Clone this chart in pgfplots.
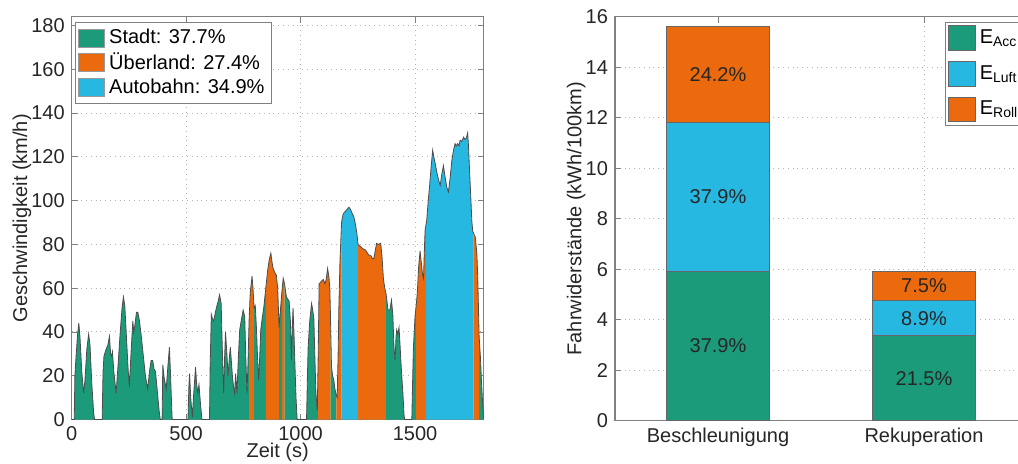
\documentclass[border=0pt]{standalone}
\usepackage{fontspec}
\setmainfont{Liberation Sans}
\usepackage{pgfplots}
\pgfplotsset{compat=1.18}
\usepackage{pgfplotstable}

\definecolor{cgreen}{HTML}{1B9B79}
\definecolor{corange}{HTML}{EB6A0E}
\definecolor{cblue}{HTML}{27B8E2}
\definecolor{cgrid}{HTML}{B4B4B4}
\definecolor{caxis}{HTML}{808080}

% speed profile (t in s, v in km/h)
\pgfplotstableread{
t v
0 0
11 0
14 20
18 27
25 38
31 44
36 38
44 22
52 12
58 18
66 32
74 39
80 34
88 16
96 3
100 0
133 0
137 22
141 29
150 32
158 34
165 38
170 30
174 29
178 31
184 22
194 12
202 24
212 40
220 51
226 56
232 52
240 36
247 22
252 15
258 28
267 45
271 40
276 43
283 49
289 49
296 45
303 39
312 30
322 20
332 14
340 22
347 27
354 27
360 23
366 22
374 13
382 4
387 0
395 0
398 25
404 19
413 14
420 24
427 33
432 20
436 8
439 0
508 0
512 15
515 21
520 10
527 1
532 10
541 24
546 16
551 12
556 16
562 8
569 0
602 0
605 25
610 48
615 46
620 45
626 48
632 51
640 54
646 57
653 53
658 32
664 12
668 28
672 40
678 30
683 20
688 27
693 33
698 26
702 20
707 15
712 12
716 21
722 12
728 28
734 41
742 46
749 50
756 47
760 30
766 12
770 25
775 45
780 58
788 65.5
792 60
797 51
802 52
807 42
812 28
817 18
822 30
826 41
832 46
839 51
844 56
848 60
856 68
863 73
870 76
875 72
880 69
888 67
894 66
900 60
906 42
912 50
918 58
924 64.5
930 62
938 56
944 55
950 54
956 44
960 27
964 42
967 51
971 40
975 26
980 10
985 0
1026 0
1030 20
1033 33
1040 45
1048 53
1053 50
1058 46
1062 30
1067 12
1073 4
1077 30
1081 62
1090 63
1099 64
1106 62
1112 64
1118 69
1124 65
1128 59
1131 45
1135 24
1140 20
1145 18
1150 14
1154 12
1156 11
1160 10
1164 30
1167 50
1172 72
1179 90
1186 94
1195 95
1203 96
1211 97
1218 96
1226 94
1233 92.5
1240 89
1246 85
1251 80
1262 79
1272 78
1284 77.4
1292 76
1299 75
1306 75
1314 73.5
1320 73.6
1326 77
1332 80.5
1340 80
1350 80.5
1356 74
1362 64
1368 60
1374 57
1382 50
1390 50
1397 54.6
1403 48
1408 33
1413 27
1417 38
1420 41
1425 39
1430 42
1434 35
1438 27
1442 20
1447 12
1452 2
1455 0
1486 0
1490 20
1493 33
1500 47
1505 52
1510 58
1516 70
1522 77
1529 70
1533 66
1537 64.5
1541 78
1544 86.5
1548 89
1551 91
1557 99
1563 106
1570 115
1577 123
1582 120
1588 117
1597 112
1604 109
1610 107
1617 112
1624 116
1631 111
1639 106
1646 104
1653 110
1661 118.5
1668 123
1675 126
1680 125
1686 126
1692 125
1697 127.6
1704 127
1712 129
1718 128
1724 128.5
1730 131
1734 124
1738 114
1743 103
1748 91
1752 86
1756 85
1763 83.5
1770 76
1774 65
1777 51.5
1780 38
1786 28
1790 18
1795 8
1800 0
}\speed

\pgfplotsset{
  box legend/.style={legend image code/.code={\draw[##1] (0pt,-4.5pt) rectangle (13pt,4.5pt);}},
  big box legend/.style={legend image code/.code={\draw[##1] (0pt,-6.2pt) rectangle (13.5pt,6.2pt);}},
  matlab/.style={
    scale only axis, width=206pt,
    axis line style={caxis, line width=0.6pt},
    every tick/.style={caxis},
    major tick length=3pt,
    grid=major, grid style={cgrid, dotted, line width=0.5pt},
    tick label style={font=\fontsize{10}{12}\selectfont, text=black!85},
    label style={font=\fontsize{10}{12}\selectfont, text=black!85},
    /pgf/number format/assume math mode=true,
    /pgf/number format/1000 sep={},
  },
  seg/.style={draw=none, fill=#1, forget plot},
}

\begin{document}
\begin{tikzpicture}
\begin{axis}[matlab, at={(0,0)}, anchor=south west, height=201.4pt,
  xmin=0, xmax=1800, ymin=0, ymax=184,
  xtick={0,500,1000,1500}, ytick={0,20,...,180},
  xlabel={Zeit (s)}, ylabel={Geschwindigkeit (km/h)},
  xlabel style={at={(axis description cs:0.5,0)}, anchor=center, yshift=-16.5pt},
  ylabel style={at={(axis description cs:-0.121,0.5)}, anchor=center},
  legend style={at={(0.008,0.987)}, anchor=north west, draw=caxis, fill=white,
    font=\fontsize{10}{11}\selectfont, inner sep=1.5pt, row sep=-1pt,
    legend cell align=left},
]
\addplot[seg=cgreen, restrict x to domain=0:775] table {\speed} \closedcycle;
\addplot[seg=corange, restrict x to domain=775:797] table {\speed} \closedcycle;
\addplot[seg=cgreen, restrict x to domain=797:848] table {\speed} \closedcycle;
\addplot[seg=corange, restrict x to domain=848:906] table {\speed} \closedcycle;
\addplot[seg=cgreen, restrict x to domain=906:918] table {\speed} \closedcycle;
\addplot[seg=corange, restrict x to domain=918:930] table {\speed} \closedcycle;
\addplot[seg=cgreen, restrict x to domain=930:1077] table {\speed} \closedcycle;
\addplot[seg=corange, restrict x to domain=1077:1131] table {\speed} \closedcycle;
\addplot[seg=cgreen, restrict x to domain=1131:1156] table {\speed} \closedcycle;
\addplot[seg=corange, restrict x to domain=1156:1179] table {\speed} \closedcycle;
\addplot[seg=cblue, restrict x to domain=1179:1251] table {\speed} \closedcycle;
\addplot[seg=corange, restrict x to domain=1251:1374] table {\speed} \closedcycle;
\addplot[seg=cgreen, restrict x to domain=1374:1505] table {\speed} \closedcycle;
\addplot[seg=corange, restrict x to domain=1505:1548] table {\speed} \closedcycle;
\addplot[seg=cblue, restrict x to domain=1548:1756] table {\speed} \closedcycle;
\addplot[seg=corange, restrict x to domain=1756:1780] table {\speed} \closedcycle;
\addplot[seg=cgreen, restrict x to domain=1780:1800] table {\speed} \closedcycle;
\addplot[black!70, line width=0.4pt, forget plot] table {\speed};
\addlegendimage{box legend, fill=cgreen, draw=black!40}
\addlegendentry{Stadt: 37.7\%}
\addlegendimage{box legend, fill=corange, draw=black!40}
\addlegendentry{Überland: 27.4\%}
\addlegendimage{box legend, fill=cblue, draw=black!40}
\addlegendentry{Autobahn: 34.9\%}
\end{axis}

\begin{axis}[matlab, at={(271.65pt,-0.6pt)}, anchor=south west, height=202pt,
  ybar stacked, bar width=0.5,
  xmin=0.5, xmax=2.5, ymin=0, ymax=16,
  xtick={1,2}, xticklabels={Beschleunigung,Rekuperation}, ytick={0,2,...,16},
  ylabel={Fahrwiderstände (kWh/100km)},
  ylabel style={at={(axis description cs:-0.094,0.5)}, anchor=center},
  legend style={at={(0.80,0.987)}, anchor=north west, draw=caxis, fill=white,
    font=\fontsize{10}{12}\selectfont, inner sep=1.5pt, row sep=5pt,
    legend cell align=left},
]
\addplot[fill=cgreen, draw=black!60, big box legend] coordinates {(1,5.92) (2,3.36)};
\addplot[fill=cblue, draw=black!60, big box legend] coordinates {(1,5.91) (2,1.39)};
\addplot[fill=corange, draw=black!60, big box legend] coordinates {(1,3.77) (2,1.17)};
\legend{E\textsubscript{Acc},E\textsubscript{Luft},E\textsubscript{Roll}}
\coordinate (la1) at (axis cs:1,2.96);
\coordinate (la2) at (axis cs:1,8.87);
\coordinate (la3) at (axis cs:1,13.72);
\coordinate (lb1) at (axis cs:2,1.68);
\coordinate (lb2) at (axis cs:2,4.06);
\coordinate (lb3) at (axis cs:2,5.33);
\end{axis}
\begin{scope}[every node/.style={font=\fontsize{10}{12}\selectfont, text=black!85}]
\node at (la1) {37.9\%};
\node at (la2) {37.9\%};
\node at (la3) {24.2\%};
\node at (lb1) {21.5\%};
\node at (lb2) {8.9\%};
\node at (lb3) {7.5\%};
\end{scope}
\pgfresetboundingbox
\useasboundingbox (-35.85pt,-21.75pt) rectangle (473.15pt,209.75pt);
\end{tikzpicture}
\end{document}
